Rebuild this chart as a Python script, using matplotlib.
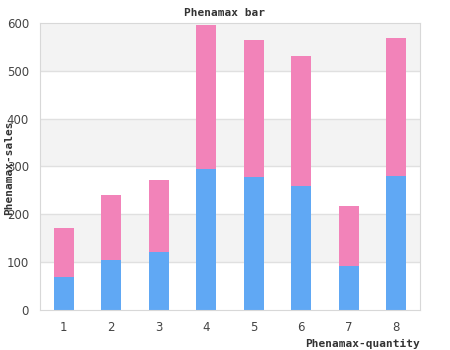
import matplotlib
matplotlib.use("Agg")
import matplotlib.pyplot as plt
import numpy as np

categories = ["1", "2", "3", "4", "5", "6", "7", "8"]
series_blue = [68, 105, 121, 295, 278, 260, 93, 281]
series_pink = [104, 136, 151, 301, 287, 271, 125, 288]
yticks = [0, 100, 200, 300, 400, 500, 600]

fig = plt.figure(figsize=(4.5, 3.5), dpi=100)
ax = fig.add_axes([40/450, 40/350, 380/450, 287/350])

x = np.arange(1, len(categories) + 1)
# alternating bands
for i in range(len(yticks) - 1):
    if i % 2 == 1:
        ax.axhspan(yticks[i], yticks[i + 1], color="#f3f3f3", zorder=0, lw=0)
for t in yticks[1:-1]:
    ax.axhline(t, color="#e0e0e0", lw=1, zorder=1)

ax.bar(x, series_blue, width=0.42, color="#60a8f4", zorder=2)
ax.bar(x, series_pink, width=0.42, bottom=series_blue, color="#f283b9", zorder=2)

ax.set_xlim(0.5, 8.5)
ax.set_ylim(0, 600)
ax.set_xticks(x)
ax.set_xticklabels(categories)
ax.set_yticks(yticks)
ax.tick_params(length=0, labelsize=8.5, colors="#444444", pad=8)
ax.tick_params(axis="y", pad=8)
for s in ax.spines.values():
    s.set_color("#d8d8d8")

fig.text(225/450, 1 - 13/350, "Phenamax bar", ha="center", va="center",
         fontsize=8, fontweight="bold", family="DejaVu Sans Mono", color="#333333")
fig.text(9/450, 1 - 168/350, "Phenamax-sales", ha="center", va="center", rotation=90,
         fontsize=8, fontweight="bold", family="DejaVu Sans Mono", color="#333333")
fig.text(420/450, 1 - 344/350, "Phenamax-quantity", ha="right", va="center",
         fontsize=8, fontweight="bold", family="DejaVu Sans Mono", color="#333333")

fig.savefig("out.png", dpi=100)
